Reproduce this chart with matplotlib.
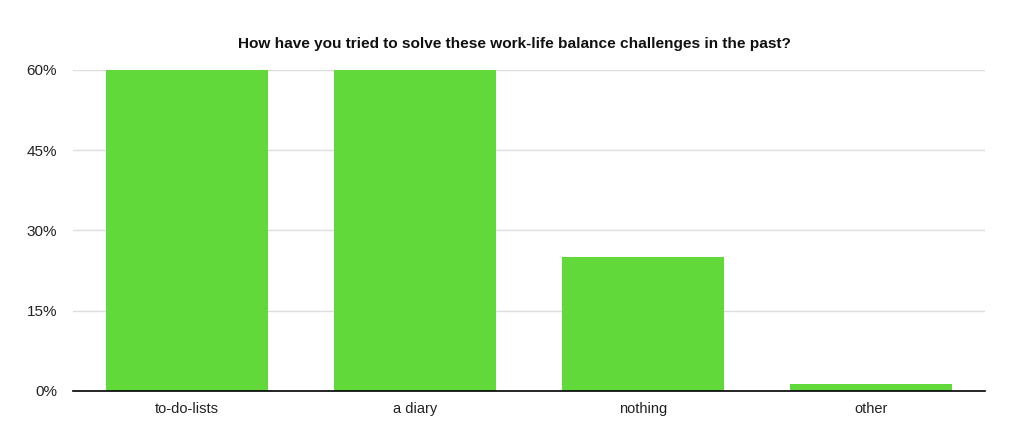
import matplotlib.pyplot as plt
from matplotlib.ticker import PercentFormatter

categories = ['to-do-lists', 'a diary', 'nothing', 'other']
shares = [60, 60, 25, 1.4]
yticks = [0, 15, 30, 45, 60]

plt.rcParams['font.family'] = ['Liberation Sans', 'DejaVu Sans']

fig = plt.figure(figsize=(10.24, 4.43), dpi=100)
ax = fig.add_axes([0.0713, 0.1174, 0.8906, 0.7246])

ax.bar(range(len(categories)), shares, width=0.71, color='#61d93b', zorder=2)

ax.set_xlim(-0.5, len(categories) - 0.5)
ax.set_ylim(0, 60)
ax.set_yticks(yticks)
ax.yaxis.set_major_formatter(PercentFormatter(decimals=0))
ax.set_xticks(range(len(categories)))
ax.set_xticklabels(categories)
ax.tick_params(axis='both', length=0, colors='#222222')
ax.tick_params(axis='y', pad=11.5, labelsize=11)
ax.tick_params(axis='x', pad=8, labelsize=10.5)

ax.grid(axis='y', color='#dddddd', linewidth=1, zorder=0)
for s in ['left', 'right', 'top']:
    ax.spines[s].set_visible(False)
ax.spines['bottom'].set_color('black')
ax.spines['bottom'].set_linewidth(1.2)
ax.spines['bottom'].set_zorder(3)

fig.text(0.502, 0.9, 'How have you tried to solve these work-life balance challenges in the past?',
         ha='center', va='center', fontsize=11.1, fontweight='bold', color='#111111')

fig.savefig('out.png', dpi=100)
